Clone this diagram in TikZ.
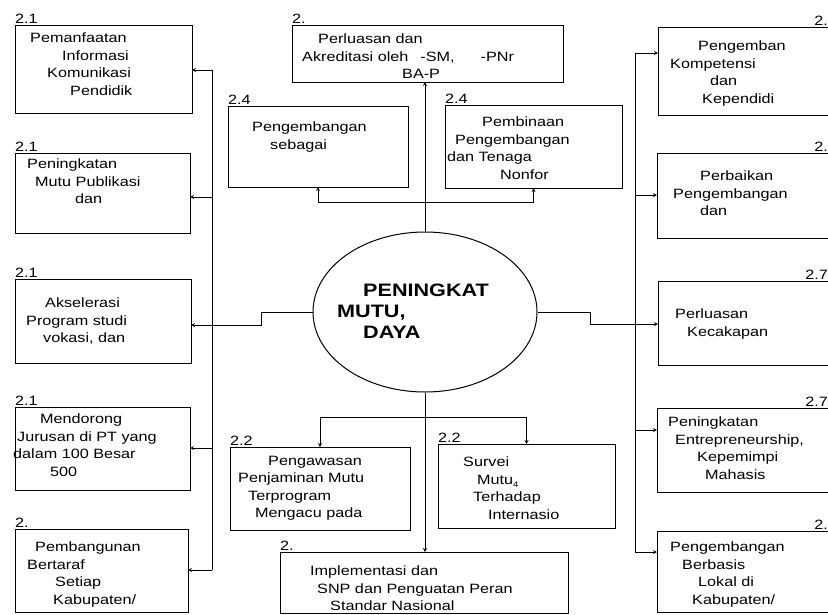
\documentclass[tikz,border=0pt]{standalone}
\usepackage{fontspec}
\setmainfont{Liberation Sans}[FakeStretch=1.2]
\usetikzlibrary{shapes.geometric}
\tikzset{
	kotak/.style={draw, line width=1pt, anchor=north west, inner sep=0pt, outer sep=0pt},
	isi/.style={anchor=north west, align=left, inner sep=0pt, font=\fontsize{13.5}{17.5}\selectfont},
	nomor/.style={inner sep=0pt, font=\fontsize{13.5}{14}\selectfont},
	hubung/.style={line width=0.8pt}
}
\begin{document}
\begin{tikzpicture}[x=1pt, y=-1pt, >=stealth]
	\useasboundingbox (0,0) rectangle (828,614);
	\clip (0,0) rectangle (828,614);
	\foreach \n/\xa/\ya/\xb/\yb [evaluate=\xb as \lebar using \xb-\xa, evaluate=\yb as \tinggi using \yb-\ya] in
		{l1/15/25/192/113, l2/15/153/190/233, l3/15/279/191/363, l4/15/407/190/490, l5/15/529/188/612,
		 t1/292/25/563/82, t2/228/106/408/187, t3/445/105/622/188,
		 b1/230/447/410/530, b2/438/444/615/528, b3/280/552/568/613,
		 r1/658/27/830/115, r2/657/153/830/238, r3/658/281/830/365, r4/657/408/830/492, r5/657/531/830/612}
		\node[kotak, minimum width=\lebar pt, minimum height=\tinggi pt] (\n) at (\xa,\ya) {};
	\foreach \n/\lb in {l1/2.1, l2/2.1, l3/2.1, l4/2.1, l5/2., t1/2., t2/2.4, t3/2.4, b1/2.2, b2/2.2, b3/2.}
		\node[nomor, anchor=south west] (\n-no) at ([yshift=1.5pt]\n.north west) {\lb};
	\foreach \n/\lb in {r1/2., r2/2., r3/2.7, r4/2.7, r5/2.}
		\node[nomor, anchor=south east] (\n-no) at ([xshift=-2pt, yshift=1.5pt]\n.north east) {\lb};

	\node[isi] (l1-isi) at (30,33) {Pemanfaatan\\\hspace*{32pt}Informasi\\\hspace*{17pt}Komunikasi\\\hspace*{40pt}Pendidik};
	\node[isi] (l2-isi) at (27,159) {Peningkatan\\\hspace*{8pt}Mutu Publikasi\\\hspace*{48pt}dan};
	\node[isi] (l3-isi) at (26,298) {\hspace*{19pt}Akselerasi\\Program studi\\\hspace*{17pt}vokasi, dan};
	\node[isi] (l4-isi) at (13,414) {\hspace*{27pt}Mendorong\\\hspace*{4pt}Jurusan di PT yang\\dalam 100 Besar\\\hspace*{37pt}500};
	\node[isi] (l5-isi) at (27,542) {\hspace*{8pt}Pembangunan\\Bertaraf\\\hspace*{28pt}Setiap\\\hspace*{26pt}Kabupaten/};
	\node[isi] (t1-isi) at (302,34) {\hspace*{16pt}Perluasan dan\\Akreditasi oleh\hspace*{12pt}-SM,\hspace*{26pt}-PNr\\\hspace*{100pt}BA-P};
	\node[isi] (t2-isi) at (252,122) {Pengembangan\\\hspace*{18pt}sebagai};
	\node[isi] (t3-isi) at (447,117) {\hspace*{35pt}Pembinaan\\\hspace*{8pt}Pengembangan\\dan Tenaga\\\hspace*{53pt}Nonfor};
	\node[isi] (b1-isi) at (238,456) {\hspace*{30pt}Pengawasan\\Penjaminan Mutu\\\hspace*{10pt}Terprogram\\\hspace*{17pt}Mengacu pada};
	\node[isi] (b2-isi) at (463,457) {Survei\\\hspace*{14pt}Mutu\raisebox{-3pt}{\fontsize{8}{8}\selectfont 4}\\\hspace*{10pt}Terhadap\\\hspace*{25pt}Internasio};
	\node[isi] (b3-isi) at (310,566) {Implementasi dan\\\hspace*{7pt}SNP dan Penguatan Peran\\\hspace*{20pt}Standar Nasional};
	\node[isi] (r1-isi) at (670,41) {\hspace*{28pt}Pengemban\\Kompetensi\\\hspace*{40pt}dan\\\hspace*{32pt}Kependidi};
	\node[isi] (r2-isi) at (673,171) {\hspace*{27pt}Perbaikan\\Pengembangan\\\hspace*{27pt}dan};
	\node[isi] (r3-isi) at (675,309) {Perluasan\\\hspace*{12pt}Kecakapan};
	\node[isi] (r4-isi) at (668,417) {Peningkatan\\\hspace*{7pt}Entrepreneurship,\\\hspace*{29pt}Kepemimpi\\\hspace*{37pt}Mahasis};
	\node[isi] (r5-isi) at (670,542) {Pengembangan\\\hspace*{12pt}Berbasis\\\hspace*{28pt}Lokal di\\\hspace*{22pt}Kabupaten/};

	\node[draw, ellipse, line width=1pt, minimum width=224pt, minimum height=160pt] (pusat) at (425,312) {};
	\node[align=left, inner sep=0pt, anchor=north west, font=\bfseries\fontsize{18}{21}\selectfont] (pusat-isi) at (337,284) {\hspace*{26pt}PENINGKAT\\MUTU,\\\hspace*{26pt}DAYA};

	\draw[hubung, ->] (pusat.north) -- (pusat.north |- t1.south);
	\coordinate (cab-atas) at (425,202);
	\draw[hubung, ->] (cab-atas) -| (t2.south);
	\draw[hubung, ->] (cab-atas) -| (t3.south);
	\draw[hubung, ->] (pusat.south) -- (pusat.south |- b3.north);
	\coordinate (cab-bawah) at (425,417);
	\draw[hubung, ->] (cab-bawah) -| (b1.north);
	\draw[hubung, ->] (cab-bawah) -| (b2.north);

	\foreach \n/\y in {l1/70, l2/197, l3/325, l4/448, l5/570} {
		\coordinate (kiri-\n) at (212,\y);
		\draw[hubung, ->] (kiri-\n) -- (kiri-\n -| \n.east);
	}
	\draw[hubung] (kiri-l1) -- (kiri-l5);
	\draw[hubung] (pusat.west) -- ++(-51,0) |- (kiri-l3);
	\foreach \n/\y in {r1/53, r2/195, r3/324, r4/430, r5/552} {
		\coordinate (kanan-\n) at (635,\y);
		\draw[hubung, ->] (kanan-\n) -- (kanan-\n -| \n.west);
	}
	\draw[hubung] (kanan-r1) -- (kanan-r5);
	\draw[hubung] (pusat.east) -- ++(53,0) |- (kanan-r3);
\end{tikzpicture}
\end{document}
